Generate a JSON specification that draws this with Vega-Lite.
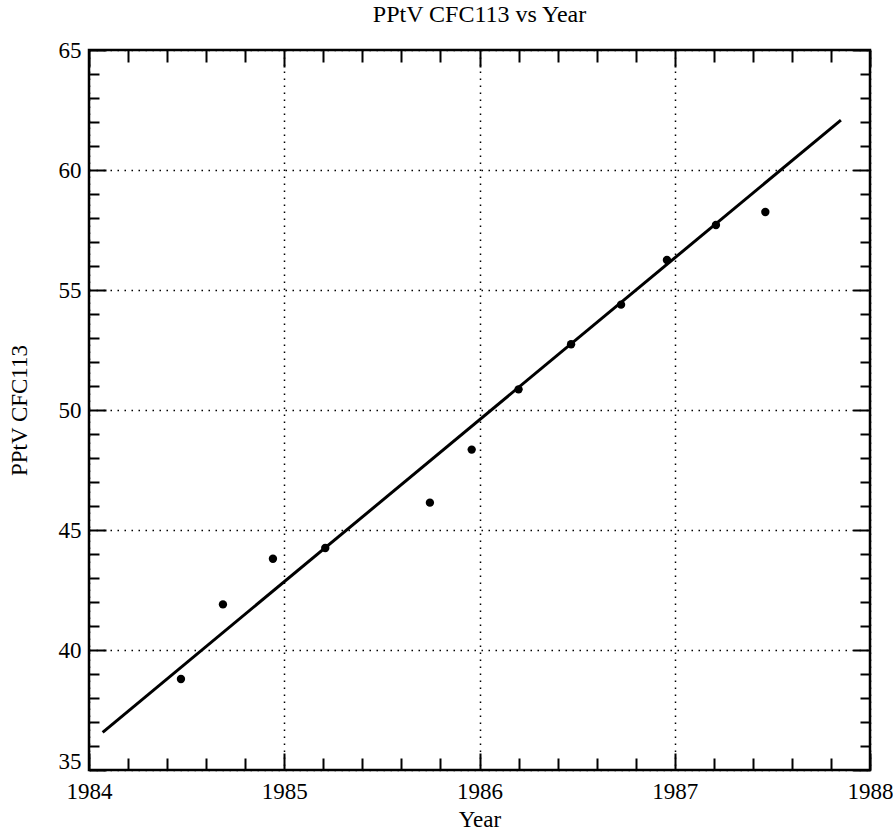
{
  "$schema": "https://vega.github.io/schema/vega-lite/v6.json",
  "width": 781,
  "height": 720,
  "autosize": {"type": "none"},
  "padding": {"left": 89, "top": 50, "right": 23, "bottom": 63},
  "background": "white",
  "title": {"text": "PPtV CFC113 vs Year", "fontSize": 24, "font": "Liberation Serif", "fontWeight": "normal", "color": "black", "offset": 12},
  "config": {
    "font": "Liberation Serif",
    "view": {"stroke": "black", "strokeWidth": 2.5},
    "axis": {"domain": false, "tickColor": "black", "tickWidth": 2, "labelColor": "black", "titleColor": "black", "labelFont": "Liberation Serif", "titleFont": "Liberation Serif", "labelFontSize": 23, "titleFontSize": 23, "titleFontWeight": "normal", "grid": false}
  },
  "datasets": {
    "pts": [
      {"year": 1984.471, "ppt": 38.79},
      {"year": 1984.686, "ppt": 41.9},
      {"year": 1984.942, "ppt": 43.8},
      {"year": 1985.210, "ppt": 44.25},
      {"year": 1985.746, "ppt": 46.14},
      {"year": 1985.960, "ppt": 48.35},
      {"year": 1986.200, "ppt": 50.86},
      {"year": 1986.469, "ppt": 52.74},
      {"year": 1986.725, "ppt": 54.39},
      {"year": 1986.960, "ppt": 56.25},
      {"year": 1987.211, "ppt": 57.71},
      {"year": 1987.464, "ppt": 58.25}
    ],
    "fit": [
      {"year": 1984.070, "ppt": 36.57},
      {"year": 1987.851, "ppt": 62.08}
    ]
  },
  "layer": [
    {
      "data": {"name": "pts"},
      "mark": {"type": "point", "filled": true, "color": "black", "size": 70, "opacity": 1},
      "encoding": {
        "x": {"field": "year", "type": "quantitative", "scale": {"domain": [1984, 1988], "nice": false, "zero": false},
          "axis": {"orient": "bottom", "title": "Year", "values": [1984, 1985, 1986, 1987, 1988], "format": "d", "tickSize": -17, "labelPadding": 27, "titlePadding": 5, "grid": true, "gridColor": "black", "gridDash": [1.5, 5.5], "gridWidth": 1.5, "gridOpacity": 1, "labelFlush": false}},
        "y": {"field": "ppt", "type": "quantitative", "scale": {"domain": [35, 65], "nice": false, "zero": false},
          "axis": {"orient": "left", "title": "PPtV CFC113", "values": [35, 40, 45, 50, 55, 60, 65], "tickSize": -17, "labelPadding": 25, "titlePadding": 27, "grid": true, "gridColor": "black", "gridDash": [1.5, 5.5], "gridWidth": 1.5, "gridOpacity": 1, "labelFlush": false,
            "labelOffset": {"condition": {"test": "datum.value == 35", "value": -9}, "value": 0}}}
      }
    },
    {
      "data": {"name": "fit"},
      "mark": {"type": "line", "color": "black", "strokeWidth": 3},
      "encoding": {
        "x": {"field": "year", "type": "quantitative",
          "axis": {"orient": "bottom", "title": null, "labels": false, "values": [1984.2, 1984.4, 1984.6, 1984.8, 1985.2, 1985.4, 1985.6, 1985.8, 1986.2, 1986.4, 1986.6, 1986.8, 1987.2, 1987.4, 1987.6, 1987.8], "tickSize": -12}},
        "y": {"field": "ppt", "type": "quantitative",
          "axis": {"orient": "left", "title": null, "labels": false, "values": [36, 37, 38, 39, 41, 42, 43, 44, 46, 47, 48, 49, 51, 52, 53, 54, 56, 57, 58, 59, 61, 62, 63, 64], "tickSize": -10}}
      }
    },
    {
      "data": {"name": "pts"},
      "mark": {"type": "point", "opacity": 0},
      "encoding": {
        "x": {"field": "year", "type": "quantitative",
          "axis": {"orient": "top", "title": null, "labels": false, "values": [1984, 1985, 1986, 1987, 1988], "tickSize": -17}},
        "y": {"field": "ppt", "type": "quantitative",
          "axis": {"orient": "right", "title": null, "labels": false, "values": [35, 40, 45, 50, 55, 60, 65], "tickSize": -17}}
      }
    },
    {
      "data": {"name": "pts"},
      "mark": {"type": "point", "opacity": 0},
      "encoding": {
        "x": {"field": "year", "type": "quantitative",
          "axis": {"orient": "top", "title": null, "labels": false, "values": [1984.2, 1984.4, 1984.6, 1984.8, 1985.2, 1985.4, 1985.6, 1985.8, 1986.2, 1986.4, 1986.6, 1986.8, 1987.2, 1987.4, 1987.6, 1987.8], "tickSize": -12}},
        "y": {"field": "ppt", "type": "quantitative",
          "axis": {"orient": "right", "title": null, "labels": false, "values": [36, 37, 38, 39, 41, 42, 43, 44, 46, 47, 48, 49, 51, 52, 53, 54, 56, 57, 58, 59, 61, 62, 63, 64], "tickSize": -10}}
      }
    }
  ],
  "resolve": {"axis": {"x": "independent", "y": "independent"}}
}
